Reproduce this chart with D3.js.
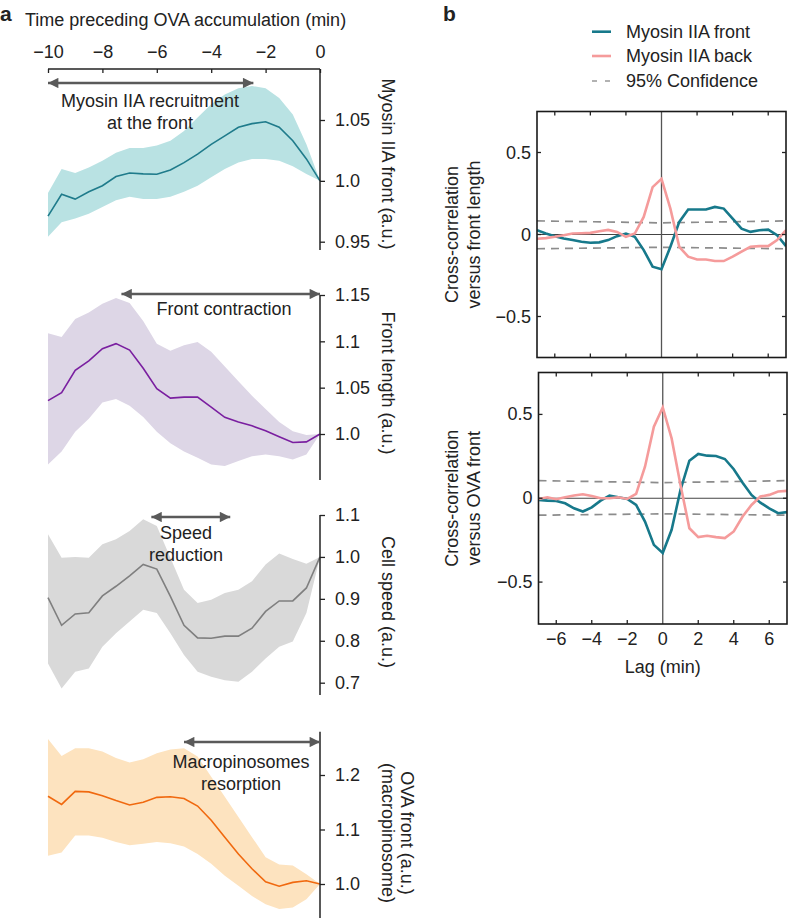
<!DOCTYPE html>
<html><head><meta charset="utf-8">
<script src="https://cdn.jsdelivr.net/npm/d3@7"></script>
<style>
body{margin:0;background:#fff;}
svg text{font-family:"Liberation Sans",Arial,Helvetica,sans-serif;fill:#222;}
</style></head>
<body>
<svg id="chart" width="788" height="918"></svg>
<script>
// ---------- DATA: panel a ----------
const timeMin = [-10,-9.5,-9,-8.5,-8,-7.5,-7,-6.5,-6,-5.5,-5,-4.5,-4,-3.5,-3,-2.5,-2,-1.5,-1,-0.5,0];
const timeTicks = [-10,-8,-6,-4,-2,0];

const myoMean  = [0.971,0.989,0.985,0.991,0.996,1.0035,1.0065,1.0057,1.0054,1.009,1.015,1.022,1.030,1.037,1.044,1.047,1.0486,1.044,1.033,1.018,1.0];
const myoUpper = [0.990,1.0098,1.0065,1.011,1.0166,1.023,1.027,1.027,1.029,1.033,1.041,1.052,1.063,1.071,1.076,1.078,1.076,1.068,1.0546,1.030,1.0];
const myoLower = [0.954,0.966,0.969,0.973,0.9785,0.984,0.987,0.985,0.985,0.987,0.991,0.996,1.003,1.0098,1.015,1.018,1.018,1.0166,1.012,1.0057,1.0];
const myoTicks = [0.95,1.0,1.05];

const lenMean  = [1.036,1.0447,1.0687,1.079,1.092,1.0975,1.0905,1.071,1.049,1.0387,1.0398,1.0398,1.029,1.018,1.013,1.0088,1.0035,0.997,0.9908,0.9915,1.0];
const lenUpper = [1.1088,1.1046,1.124,1.131,1.1405,1.1468,1.1415,1.122,1.0975,1.0898,1.0958,1.0993,1.0887,1.0729,1.057,1.0412,1.0271,1.013,1.003,0.999,1.0];
const lenLower = [0.967,0.981,1.0025,1.0165,1.034,1.0377,1.0306,1.0183,1.0025,0.990,0.981,0.9743,0.967,0.9655,0.9708,0.976,0.978,0.976,0.9725,0.978,1.0];
const lenTicks = [1.0,1.05,1.1,1.15];

const spdMean  = [0.903,0.837,0.864,0.867,0.907,0.930,0.955,0.982,0.971,0.906,0.837,0.807,0.806,0.811,0.811,0.830,0.870,0.895,0.895,0.926,1.0];
const spdUpper = [1.054,0.998,1.0,0.998,1.030,1.042,1.062,1.090,1.074,0.998,0.922,0.890,0.898,0.914,0.922,0.942,0.982,1.008,0.995,0.984,1.0];
const spdLower = [0.746,0.686,0.726,0.734,0.786,0.818,0.846,0.874,0.866,0.818,0.766,0.726,0.714,0.706,0.702,0.726,0.758,0.786,0.798,0.866,1.0];
const spdTicks = [0.7,0.8,0.9,1.0,1.1];

const ovaMean  = [1.161,1.146,1.170,1.169,1.162,1.153,1.145,1.150,1.159,1.160,1.157,1.143,1.117,1.086,1.055,1.028,1.004,0.996,1.003,1.006,1.0];
const ovaUpper = [1.266,1.235,1.249,1.249,1.243,1.231,1.223,1.229,1.240,1.247,1.249,1.234,1.197,1.160,1.123,1.086,1.049,1.036,1.034,1.018,1.0];
const ovaLower = [1.052,1.058,1.089,1.089,1.085,1.077,1.071,1.074,1.077,1.075,1.069,1.055,1.037,1.015,0.997,0.978,0.963,0.954,0.957,0.972,1.0];
const ovaTicks = [1.0,1.1,1.2];

// annotation arrows (time units)
const arrowSpans = [[-10,-2.45],[-7.3,0],[-6.2,-3.3],[-5,0]];

// ---------- DATA: panel b ----------
const lags = [-7,-6.5,-6,-5.5,-5,-4.5,-4,-3.5,-3,-2.5,-2,-1.5,-1,-0.5,0,0.5,1,1.5,2,2.5,3,3.5,4,4.5,5,5.5,6,6.5,7];
const lagTicks = [-6,-4,-2,0,2,4,6];
const ccTicks = [-0.5,0,0.5];

const ccLenFront = [0.026,0.006,-0.010,-0.024,-0.034,-0.044,-0.050,-0.048,-0.034,-0.010,0.006,-0.014,-0.095,-0.196,-0.212,-0.075,0.077,0.152,0.152,0.152,0.168,0.158,0.097,0.036,0.016,0.026,0.030,-0.004,-0.071];
const ccLenBack  = [-0.026,-0.022,-0.014,-0.004,0.006,0.008,0.010,0.020,0.028,0.016,-0.014,0.006,0.107,0.289,0.339,0.158,-0.075,-0.135,-0.152,-0.152,-0.162,-0.162,-0.135,-0.105,-0.075,-0.071,-0.071,-0.034,0.026];
const ccOvaFront = [-0.010,-0.014,-0.016,-0.030,-0.060,-0.079,-0.054,-0.014,0.016,0.006,-0.004,-0.040,-0.139,-0.278,-0.327,-0.188,0.050,0.224,0.264,0.254,0.252,0.234,0.173,0.093,0.020,-0.026,-0.060,-0.089,-0.083];
const ccOvaBack  = [-0.004,0.006,-0.006,0.006,0.016,0.024,0.014,0.0,0.0,0.006,-0.004,0.026,0.188,0.427,0.542,0.357,0.079,-0.179,-0.232,-0.224,-0.232,-0.238,-0.198,-0.109,-0.040,0.010,0.020,0.040,0.044];
const confLags = [-7,0,7];
const confLenUpper = [0.083,0.071,0.083];
const confLenLower = [-0.087,-0.078,-0.087];
const confOvaUpper = [0.105,0.093,0.105];
const confOvaLower = [-0.101,-0.093,-0.101];

const legendLabels = ["Myosin IIA front","Myosin IIA back","95% Confidence"];

// ---------- DRAW ----------
const svg = d3.select("#chart");
const FS = 18;
const arrowGray = "#5a5a5a";

svg.append("defs").append("marker")
  .attr("id","ah").attr("viewBox","0 0 10 10").attr("refX",10).attr("refY",5)
  .attr("markerWidth",4.6).attr("markerHeight",4.0).attr("markerUnits","strokeWidth")
  .attr("orient","auto-start-reverse")
  .append("path").attr("d","M0,0L10,5L0,10z").attr("fill",arrowGray);

// panel labels
svg.append("text").attr("x",0).attr("y",21).attr("font-size",21).attr("font-weight","bold").text("a");
svg.append("text").attr("x",443).attr("y",21).attr("font-size",21).attr("font-weight","bold").text("b");

// panel a x axis (top)
const xA = d3.scaleLinear().domain([-10,0]).range([48,320]);
svg.append("text").attr("x",25).attr("y",26).attr("font-size",FS).text("Time preceding OVA accumulation (min)");
const axTop = svg.append("g").attr("transform","translate(0,69)")
  .call(d3.axisBottom(xA).tickValues(timeTicks).tickSize(4).tickFormat(d=>d3.format("")(d).replace("-","\u2212")));
axTop.select(".domain").attr("stroke","#222").attr("stroke-width",1.5).attr("d","M48,0H320");
axTop.selectAll(".tick line").attr("stroke","#222").attr("stroke-width",1.3);
axTop.selectAll(".tick text").attr("y",-11).attr("dy",0).attr("font-size",FS).attr("font-family","Liberation Sans, Arial, sans-serif").attr("fill","#222");

const panels = [
  {mean:myoMean, up:myoUpper, lo:myoLower, ticks:myoTicks, dom:[0.95,1.05], rng:[241.7,120], axis:[69,250],
   band:"#b9e2e3", line:"#1f7b8b", fmt:d=>d===1?"1.0":d3.format("")(d), label:["Myosin IIA front (a.u.)"], labelY:164},
  {mean:lenMean, up:lenUpper, lo:lenLower, ticks:lenTicks, dom:[1.0,1.15], rng:[434,295], axis:[295,480],
   band:"#ddd6e6", line:"#7a1fa0", fmt:d=>d===1?"1.0":d3.format("")(d), label:["Front length (a.u.)"], labelY:383},
  {mean:spdMean, up:spdUpper, lo:spdLower, ticks:spdTicks, dom:[0.7,1.1], rng:[682.7,515], axis:[515,695],
   band:"#d9d9d9", line:"#7f7f7f", fmt:d=>d3.format(".1f")(d), label:["Cell speed (a.u.)"], labelY:602},
  {mean:ovaMean, up:ovaUpper, lo:ovaLower, ticks:ovaTicks, dom:[1.0,1.2], rng:[884,775], axis:[731.7,918],
   band:"#fde3bf", line:"#f0690f", fmt:d=>d3.format(".1f")(d), label:["OVA front (a.u.)","(macropinosome)"], labelY:833}
];

panels.forEach((p,i)=>{
  const y = d3.scaleLinear().domain(p.dom).range(p.rng);
  const area = d3.area().x((d,j)=>xA(timeMin[j])).y0((d,j)=>y(p.lo[j])).y1((d,j)=>y(p.up[j]));
  svg.append("path").datum(p.mean).attr("d",area).attr("fill",p.band);
  const line = d3.line().x((d,j)=>xA(timeMin[j])).y(d=>y(d));
  svg.append("path").datum(p.mean).attr("d",line).attr("fill","none").attr("stroke",p.line).attr("stroke-width",1.6);
  const ax = svg.append("g").attr("transform","translate(320,0)")
    .call(d3.axisRight(y).tickValues(p.ticks).tickSize(5).tickFormat(p.fmt));
  ax.select(".domain").attr("stroke","#222").attr("stroke-width",1.5).attr("d",`M0,${p.axis[0]}V${p.axis[1]}`);
  ax.selectAll(".tick line").attr("stroke","#222").attr("stroke-width",1.3);
  ax.selectAll(".tick text").attr("x",15).attr("font-size",FS).attr("font-family","Liberation Sans, Arial, sans-serif").attr("fill","#222");
  if(p.label.length===1){
    svg.append("text").attr("transform",`translate(382,${p.labelY}) rotate(90)`).attr("text-anchor","middle")
      .attr("font-size",FS).text(p.label[0]);
  } else {
    svg.append("text").attr("transform",`translate(401,${p.labelY}) rotate(90)`).attr("text-anchor","middle")
      .attr("font-size",FS).text(p.label[0]);
    svg.append("text").attr("transform",`translate(382,${p.labelY}) rotate(90)`).attr("text-anchor","middle")
      .attr("font-size",FS).text(p.label[1]);
  }
});

// annotation arrows
const arrowY = [83,294,517,742];
arrowSpans.forEach((s,i)=>{
  svg.append("line").attr("x1",xA(s[0])).attr("x2",xA(s[1])).attr("y1",arrowY[i]).attr("y2",arrowY[i])
    .attr("stroke",arrowGray).attr("stroke-width",2.6)
    .attr("marker-start","url(#ah)").attr("marker-end","url(#ah)");
});
const annos = [
  {x:150, y:[107,129], t:["Myosin IIA recruitment","at the front"]},
  {x:224, y:[315], t:["Front contraction"]},
  {x:186, y:[539,561], t:["Speed","reduction"]},
  {x:241, y:[768,790], t:["Macropinosomes","resorption"]}
];
annos.forEach(a=>a.t.forEach((t,k)=>svg.append("text").attr("x",a.x).attr("y",a.y[k]).attr("text-anchor","middle").attr("font-size",FS).text(t)));

// ---------- panel b ----------
const teal = "#17798b", pink = "#f59b9b";
// legend
const legY = [31.7,56,81];
svg.append("line").attr("x1",592).attr("x2",611).attr("y1",legY[0]).attr("y2",legY[0]).attr("stroke",teal).attr("stroke-width",2.6);
svg.append("line").attr("x1",592).attr("x2",611).attr("y1",legY[1]).attr("y2",legY[1]).attr("stroke",pink).attr("stroke-width",2.6);
svg.append("line").attr("x1",592).attr("x2",611).attr("y1",legY[2]).attr("y2",legY[2]).attr("stroke","#999").attr("stroke-width",1.6).attr("stroke-dasharray","5,8");
legendLabels.forEach((l,i)=>svg.append("text").attr("x",626).attr("y",legY[i]+6).attr("font-size",FS).text(l));

const boxes = [
  {x0:537, x1:786, y0:111.5, y1:357.5, front:ccLenFront, back:ccLenBack, cu:confLenUpper, cl:confLenLower,
   label:["Cross-correlation","versus front length"], showX:false},
  {x0:538.5, x1:787, y0:372.5, y1:624, front:ccOvaFront, back:ccOvaBack, cu:confOvaUpper, cl:confOvaLower,
   label:["Cross-correlation","versus OVA front"], showX:true}
];
boxes.forEach((b,i)=>{
  const x = d3.scaleLinear().domain([-7,7]).range([b.x0,b.x1]);
  const y = d3.scaleLinear().domain([-0.75,0.75]).range([b.y1,b.y0]);
  const g = svg.append("g");
  const cid = "clip"+i;
  g.append("clipPath").attr("id",cid).append("rect").attr("x",b.x0).attr("y",b.y0).attr("width",b.x1-b.x0).attr("height",b.y1-b.y0);
  const pg = g.append("g").attr("clip-path",`url(#${cid})`);
  // confidence
  const cl = d3.line().x((d,j)=>x(confLags[j])).y(d=>y(d));
  [b.cu,b.cl].forEach(c=>pg.append("path").datum(c).attr("d",cl).attr("fill","none").attr("stroke","#8c8c8c").attr("stroke-width",1.7).attr("stroke-dasharray","8,6"));
  // zero lines
  pg.append("line").attr("x1",b.x0).attr("x2",b.x1).attr("y1",y(0)).attr("y2",y(0)).attr("stroke","#444").attr("stroke-width",1.2);
  pg.append("line").attr("x1",x(0)).attr("x2",x(0)).attr("y1",b.y0).attr("y2",b.y1).attr("stroke","#555").attr("stroke-width",1.3);
  const ln = d3.line().x((d,j)=>x(lags[j])).y(d=>y(d));
  pg.append("path").datum(b.front).attr("d",ln).attr("fill","none").attr("stroke",teal).attr("stroke-width",2.6);
  pg.append("path").datum(b.back).attr("d",ln).attr("fill","none").attr("stroke",pink).attr("stroke-width",2.6);
  // box
  g.append("rect").attr("x",b.x0).attr("y",b.y0).attr("width",b.x1-b.x0).attr("height",b.y1-b.y0)
    .attr("fill","none").attr("stroke","#1a1a1a").attr("stroke-width",1.6);
  // inner ticks
  lagTicks.filter(t=>t!==0).forEach(t=>{
    g.append("line").attr("x1",x(t)).attr("x2",x(t)).attr("y1",b.y0).attr("y2",b.y0+4).attr("stroke","#222").attr("stroke-width",1.3);
    g.append("line").attr("x1",x(t)).attr("x2",x(t)).attr("y1",b.y1).attr("y2",b.y1-4).attr("stroke","#222").attr("stroke-width",1.3);
  });
  ccTicks.forEach(t=>{
    g.append("line").attr("x1",b.x0).attr("x2",b.x0+4).attr("y1",y(t)).attr("y2",y(t)).attr("stroke","#222").attr("stroke-width",1.3);
    g.append("line").attr("x1",b.x1).attr("x2",b.x1-4).attr("y1",y(t)).attr("y2",y(t)).attr("stroke","#222").attr("stroke-width",1.3);
    g.append("text").attr("x",b.x0-6).attr("y",y(t)+6).attr("text-anchor","end").attr("font-size",FS)
      .text(t===0?"0":d3.format("")(t).replace("-","\u2212"));
  });
  if(b.showX){
    lagTicks.forEach(t=>g.append("text").attr("x",x(t)).attr("y",b.y1+21).attr("text-anchor","middle").attr("font-size",FS)
      .text(d3.format("")(t).replace("-","\u2212")));
    g.append("text").attr("x",x(0)).attr("y",b.y1+49).attr("text-anchor","middle").attr("font-size",FS).text("Lag (min)");
  }
  const cy = (b.y0+b.y1)/2;
  g.append("text").attr("transform",`translate(458,${cy}) rotate(-90)`).attr("text-anchor","middle").attr("font-size",FS).text(b.label[0]);
  g.append("text").attr("transform",`translate(480,${cy}) rotate(-90)`).attr("text-anchor","middle").attr("font-size",FS).text(b.label[1]);
});
</script>
</body></html>
